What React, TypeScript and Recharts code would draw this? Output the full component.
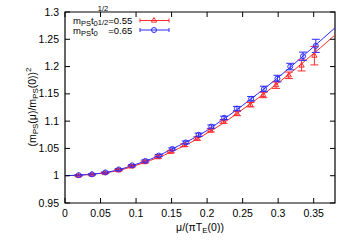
import React from "react";
import { ComposedChart, XAxis, YAxis, Scatter, Line, ErrorBar, ReferenceArea } from "recharts";

// m_PS t0^1/2 = 0.55 (red) data
const redX = [0.019, 0.0375, 0.056, 0.075, 0.0935, 0.112, 0.131, 0.149, 0.168, 0.186, 0.205, 0.223, 0.242, 0.261, 0.279, 0.297, 0.315, 0.333, 0.351];
const redY = [1.0, 1.002, 1.005, 1.01, 1.017, 1.025, 1.034, 1.044, 1.056, 1.068, 1.083, 1.099, 1.114, 1.13, 1.148, 1.166, 1.184, 1.202, 1.22];
const redErr = [0.001, 0.001, 0.001, 0.0015, 0.0015, 0.002, 0.002, 0.002, 0.0025, 0.003, 0.003, 0.003, 0.004, 0.004, 0.005, 0.006, 0.006, 0.01, 0.017];

// m_PS t0 = 0.65 (blue) data
const blueX = [0.0192, 0.038, 0.0568, 0.0757, 0.0945, 0.113, 0.132, 0.151, 0.17, 0.188, 0.206, 0.224, 0.242, 0.262, 0.28, 0.299, 0.317, 0.335, 0.353];
const blueY = [1.001, 1.0025, 1.006, 1.0115, 1.019, 1.027, 1.037, 1.049, 1.061, 1.075, 1.09, 1.106, 1.123, 1.141, 1.159, 1.178, 1.2, 1.219, 1.238];
const blueErr = [0.001, 0.001, 0.001, 0.0015, 0.0015, 0.002, 0.002, 0.002, 0.0025, 0.003, 0.003, 0.003, 0.004, 0.004, 0.005, 0.006, 0.006, 0.0075, 0.012];

// fit curves
const fitX = [0, 0.02, 0.04, 0.06, 0.08, 0.1, 0.12, 0.14, 0.16, 0.18, 0.2, 0.22, 0.24, 0.26, 0.28, 0.3, 0.32, 0.34, 0.36, 0.38];
const redFitY = [1.0, 1.001, 1.003, 1.006, 1.011, 1.019, 1.028, 1.038, 1.05, 1.063, 1.078, 1.094, 1.112, 1.131, 1.15, 1.17, 1.191, 1.213, 1.235, 1.258];
const blueFitY = [1.0, 1.001, 1.003, 1.0065, 1.0125, 1.021, 1.03, 1.042, 1.055, 1.068, 1.083, 1.101, 1.119, 1.139, 1.159, 1.18, 1.202, 1.225, 1.248, 1.271];

const xTicks = [0, 0.05, 0.1, 0.15, 0.2, 0.25, 0.3, 0.35];
const yTicks = [0.95, 1, 1.05, 1.1, 1.15, 1.2, 1.25, 1.3];

const RED = "#ff2a2a";
const BLUE = "#2a2aff";
const FONT = "'Liberation Sans', Arial, sans-serif";

const L = 65;
const R = 335;
const T = 12;
const B = 203;

const redData = redX.map((x, i) => ({ x, y: redY[i], err: redErr[i] }));
const blueData = blueX.map((x, i) => ({ x, y: blueY[i], err: blueErr[i] }));
const redFit = fitX.map((x, i) => ({ x, y: redFitY[i] }));
const blueFit = fitX.map((x, i) => ({ x, y: blueFitY[i] }));

const YTick = (props: any) => {
  const { y, payload } = props;
  return (
    <g>
      <line x1={L} x2={L + 5} y1={y} y2={y} stroke="#000" />
      <line x1={R - 5} x2={R} y1={y} y2={y} stroke="#000" />
      <text x={L - 6} y={y + 3.5} textAnchor="end" fontSize={10.5} fontFamily={FONT} fill="#000">
        {String(payload.value)}
      </text>
    </g>
  );
};

const XTick = (props: any) => {
  const { x, payload } = props;
  return (
    <g>
      <line x1={x} x2={x} y1={B} y2={B - 5} stroke="#000" />
      <line x1={x} x2={x} y1={T} y2={T + 5} stroke="#000" />
      <text x={x} y={B + 14} textAnchor="middle" fontSize={10.5} fontFamily={FONT} fill="#000">
        {String(payload.value)}
      </text>
    </g>
  );
};

const Triangle = (props: any) => {
  const { cx, cy } = props;
  return (
    <polygon
      points={`${cx},${cy - 3} ${cx - 2.6},${cy + 1.6} ${cx + 2.6},${cy + 1.6}`}
      fill="none"
      stroke={RED}
      strokeWidth={1}
    />
  );
};

const Circle = (props: any) => {
  const { cx, cy } = props;
  return <circle cx={cx} cy={cy} r={2.5} fill="none" stroke={BLUE} strokeWidth={1} />;
};

const LegendRow = ({ y, color, marker }: { y: number; color: string; marker: string }) => (
  <g>
    <line x1={140} x2={169} y1={y} y2={y} stroke={color} />
    <line x1={140} x2={140} y1={y - 2} y2={y + 2} stroke={color} />
    <line x1={169} x2={169} y1={y - 2} y2={y + 2} stroke={color} />
    {marker === "tri" ? (
      <polygon points={`154,${y - 3} 151.4,${y + 1.6} 156.6,${y + 1.6}`} fill="none" stroke={color} />
    ) : (
      <circle cx={154} cy={y} r={2.5} fill="none" stroke={color} />
    )}
  </g>
);

export default function App() {
  return (
    <div style={{ position: "absolute", left: 0, top: 0, width: 350, height: 245, background: "#fff" }}>
      <ComposedChart width={350} height={245} margin={{ top: T, right: 350 - R, bottom: 12, left: 5 }}>
        <XAxis
          dataKey="x"
          type="number"
          domain={[0, 0.38]}
          ticks={xTicks}
          allowDataOverflow
          height={30}
          tickLine={false}
          axisLine={false}
          tick={<XTick />}
        />
        <YAxis
          dataKey="y"
          type="number"
          domain={[0.95, 1.3]}
          ticks={yTicks}
          allowDataOverflow
          width={60}
          tickLine={false}
          axisLine={false}
          tick={<YTick />}
        />
        <ReferenceArea x1={0} x2={0.38} y1={0.95} y2={1.3} fill="none" stroke="#000" strokeWidth={1.2} />
        <Line data={redFit} dataKey="y" type="monotone" stroke={RED} strokeWidth={1} dot={false} isAnimationActive={false} />
        <Line data={blueFit} dataKey="y" type="monotone" stroke={BLUE} strokeWidth={1} dot={false} isAnimationActive={false} />
        <Scatter data={redData} dataKey="y" shape={<Triangle />} isAnimationActive={false}>
          <ErrorBar dataKey="err" direction="y" width={4} stroke={RED} strokeWidth={1} />
        </Scatter>
        <Scatter data={blueData} dataKey="y" shape={<Circle />} isAnimationActive={false}>
          <ErrorBar dataKey="err" direction="y" width={4} stroke={BLUE} strokeWidth={1} />
        </Scatter>
      </ComposedChart>
      <svg width={350} height={245} style={{ position: "absolute", left: 0, top: 0, pointerEvents: "none" }}>
        <g fontFamily={FONT} fill="#000">
          <text x={73} y={24} fontSize={9.5}>
            m<tspan fontSize={7.5} dy={2}>PS</tspan>
            <tspan dy={-2}>t</tspan>
            <tspan fontSize={7.5} dy={2}>0</tspan>
            <tspan fontSize={7.5} dy={-15}>1/2</tspan>
            <tspan dy={13}>=0.55</tspan>
          </text>
          <text x={73} y={34} fontSize={9.5}>
            m<tspan fontSize={7.5} dy={2}>PS</tspan>
            <tspan dy={-2}>t</tspan>
            <tspan fontSize={7.5} dy={2}>0</tspan>
            <tspan fontSize={7.5} dy={-11}>1/2</tspan>
            <tspan dy={9}>=0.65</tspan>
          </text>
          <text x={200} y={231} fontSize={10.5} textAnchor="middle">
            μ/(πT<tspan fontSize={8} dy={2}>E</tspan>
            <tspan dy={-2}>(0))</tspan>
          </text>
          <text transform="translate(36,107) rotate(-90)" fontSize={10.5} textAnchor="middle">
            (m<tspan fontSize={8} dy={2}>PS</tspan>
            <tspan dy={-2}>(μ)/m</tspan>
            <tspan fontSize={8} dy={2}>PS</tspan>
            <tspan dy={-2}>(0))</tspan>
            <tspan fontSize={8} dy={-5}>2</tspan>
          </text>
        </g>
        <LegendRow y={20.5} color={RED} marker="tri" />
        <LegendRow y={30} color={BLUE} marker="circ" />
      </svg>
    </div>
  );
}
